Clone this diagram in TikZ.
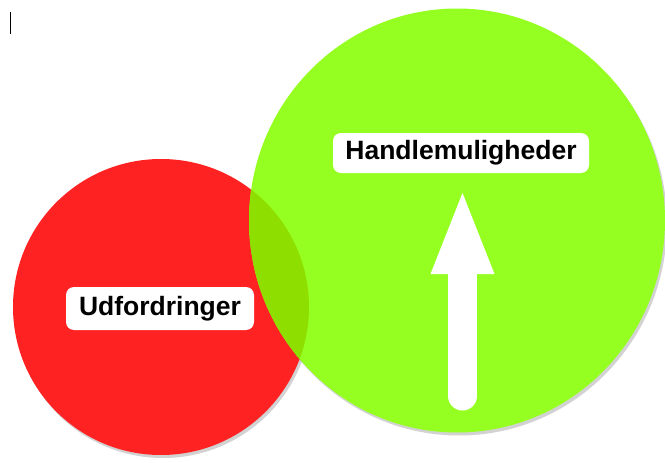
\documentclass[tikz,border=0pt]{standalone}
\usepackage{fontspec}
\setmainfont{Liberation Sans}
\usetikzlibrary{shadows,shapes.geometric}
\definecolor{redc}{RGB}{255,34,34}
\definecolor{greenc}{RGB}{150,255,34}
\definecolor{overlapc}{RGB}{142,222,0}
\begin{document}
\begin{tikzpicture}[x=1pt,y=-1pt,
  shad/.style={drop shadow={shadow xshift=2pt,shadow yshift=-3pt,opacity=0.25,fill=black!70}},
  labelbox/.style={fill=white,rounded corners=8pt,inner sep=0pt,
    font=\bfseries\fontsize{26.5}{29}\selectfont,text=black}]
\useasboundingbox (0,0) rectangle (665,463);
\fill[white] (0,0) rectangle (665,463);
% cursor mark
\coordinate (c1) at (10,12);
\coordinate (c2) at (10,34);
\draw[black,line width=1pt] (c1) -- (c2);
% circles
\node[circle,fill=redc,minimum size=296pt,inner sep=0pt,shad] (red) at (161,307) {};
\node[ellipse,fill=greenc,minimum width=416pt,minimum height=424pt,inner sep=0pt,shad] (green) at (457,220.5) {};
\begin{scope}
  \clip (red.center) circle (148pt);
  \fill[overlapc] (green.center) ellipse (208pt and 212pt);
\end{scope}
% arrow
\coordinate (abot) at (462.5,396);
\coordinate (atop) at (462.5,274);
\coordinate (tip) at (462.5,193);
\draw[white,line width=29pt,line cap=round] (abot) -- (atop);
\fill[white] (430.5,274) -- (tip) -- (494.5,274) -- cycle;
% labels
\node[labelbox,minimum width=256pt,minimum height=40pt] (hm) at (461,153) {Handlemuligheder};
\node[labelbox,minimum width=188pt,minimum height=43pt] (ud) at (160,308.5) {Udfordringer};
\end{tikzpicture}
\end{document}
